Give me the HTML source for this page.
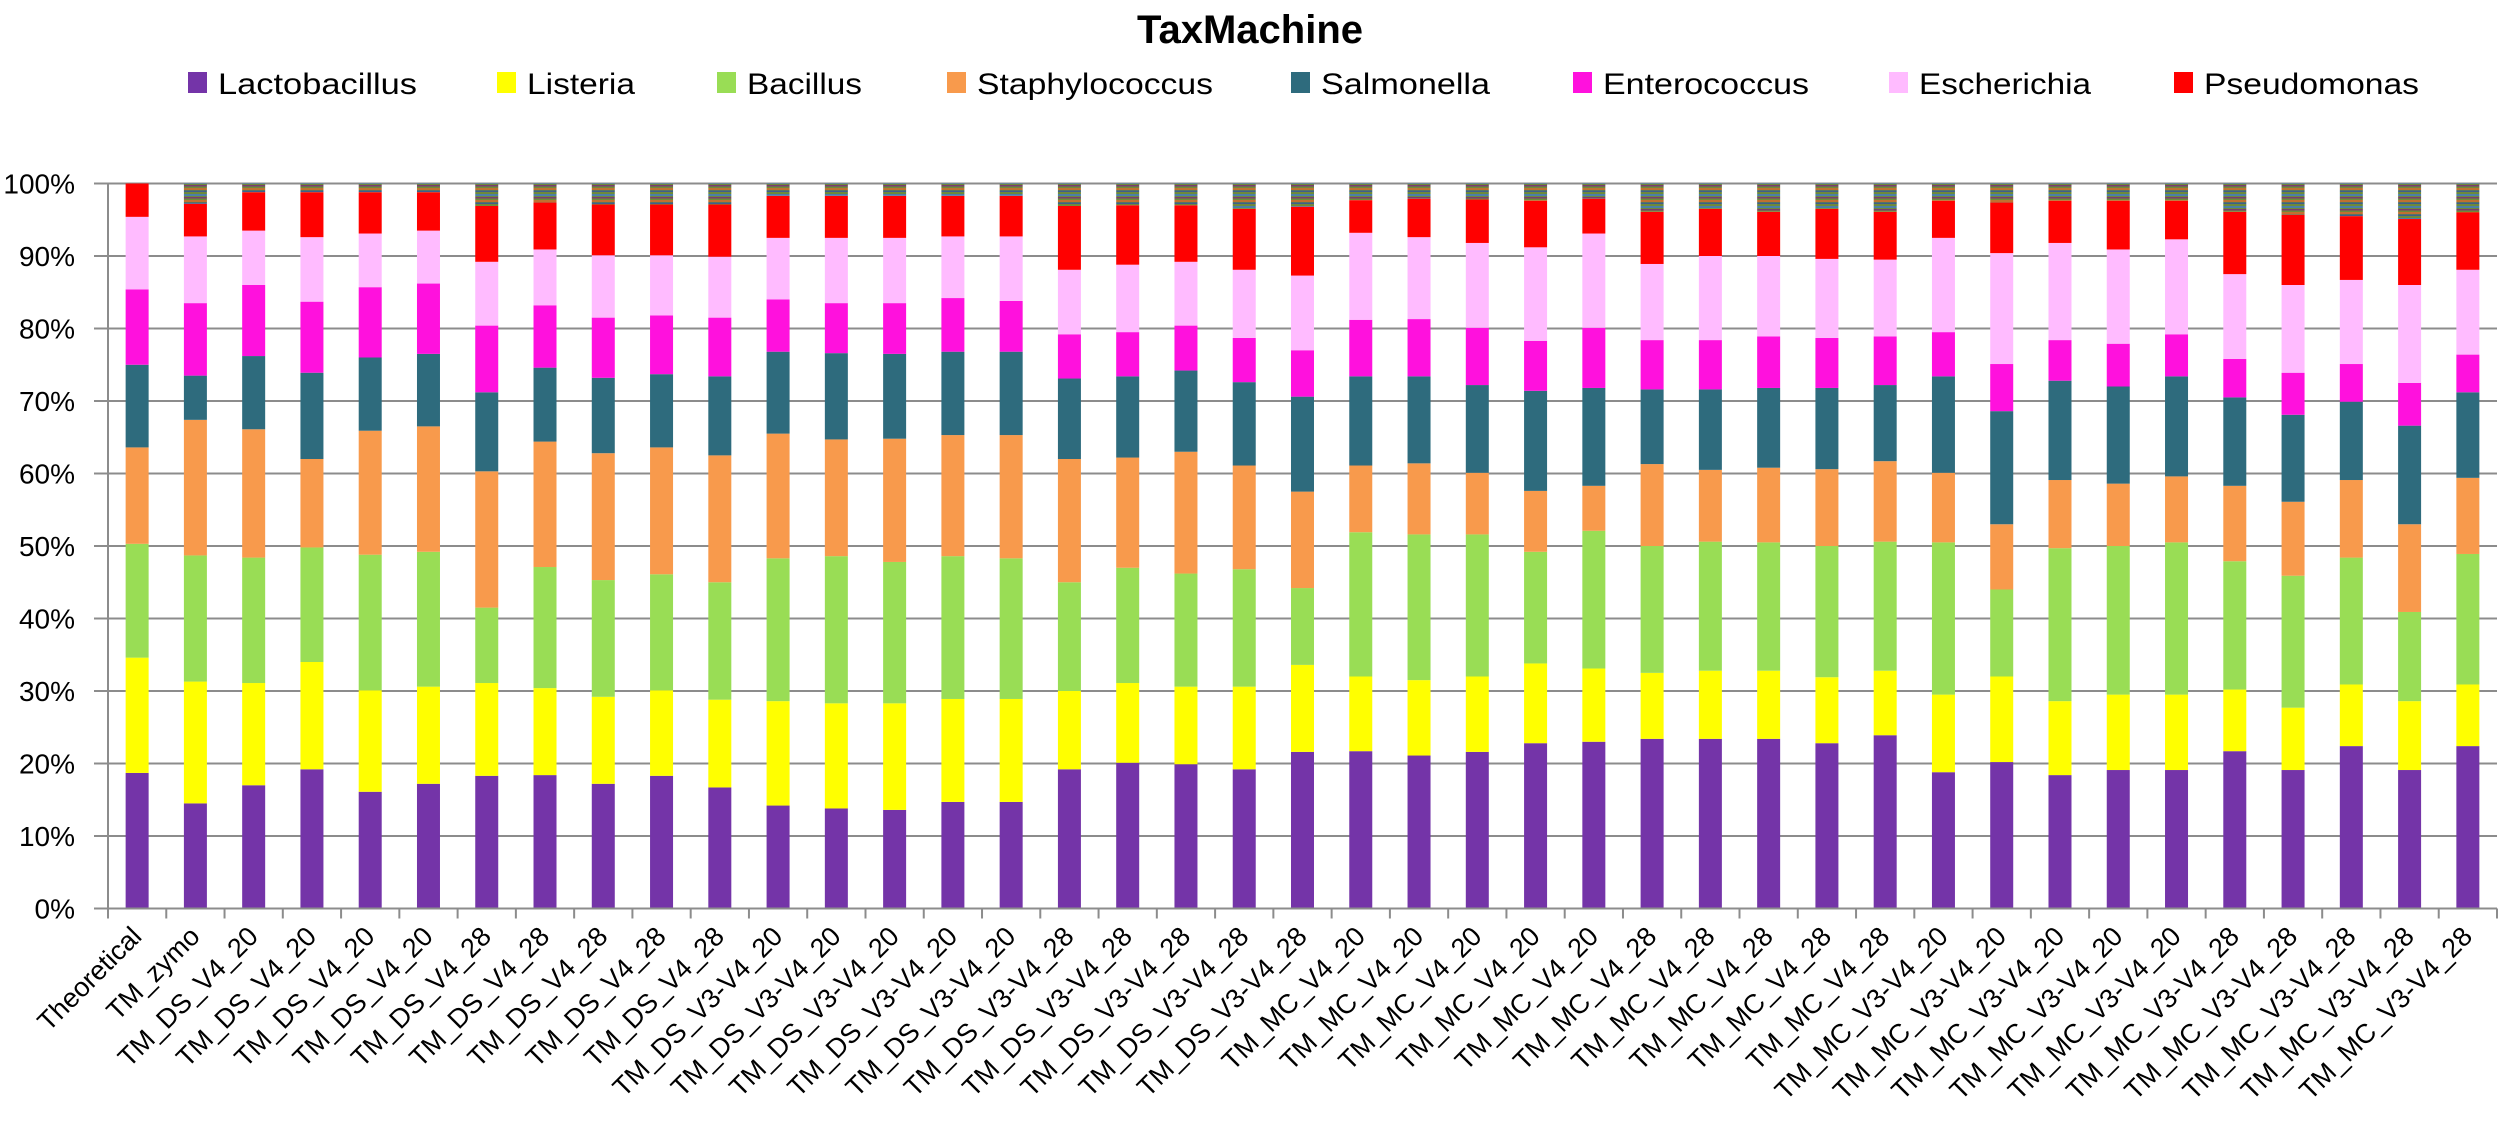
<!DOCTYPE html>
<html><head><meta charset="utf-8"><style>
html,body{margin:0;padding:0;background:#fff;}
svg{display:block;font-family:"Liberation Sans",sans-serif;}
</style></head><body>
<svg id="chart" width="2500" height="1123" xmlns="http://www.w3.org/2000/svg">
<defs>
<pattern id="otherPat" width="10" height="12" patternUnits="userSpaceOnUse">
<rect width="10" height="12" fill="#6e8a3a"/>
<rect y="2" width="10" height="2" fill="#4a7fa8"/>
<rect y="5" width="10" height="1.5" fill="#7a3d6e"/>
<rect y="8" width="10" height="2" fill="#c07030"/>
<rect y="10.5" width="10" height="1.5" fill="#3e5e8e"/>
</pattern>
</defs>
<text x="1250" y="43" text-anchor="middle" font-size="40" font-weight="bold" fill="#000">TaxMachine</text>
<g id="legend"></g>
<g id="grid"></g>
<g id="bars"></g>
<g id="axes"></g>
</svg>
<script>
const categories = ["Theoretical","TM_zymo","TM_DS_V4_20","TM_DS_V4_20","TM_DS_V4_20","TM_DS_V4_20","TM_DS_V4_28","TM_DS_V4_28","TM_DS_V4_28","TM_DS_V4_28","TM_DS_V4_28","TM_DS_V3-V4_20","TM_DS_V3-V4_20","TM_DS_V3-V4_20","TM_DS_V3-V4_20","TM_DS_V3-V4_20","TM_DS_V3-V4_28","TM_DS_V3-V4_28","TM_DS_V3-V4_28","TM_DS_V3-V4_28","TM_DS_V3-V4_28","TM_MC_V4_20","TM_MC_V4_20","TM_MC_V4_20","TM_MC_V4_20","TM_MC_V4_20","TM_MC_V4_28","TM_MC_V4_28","TM_MC_V4_28","TM_MC_V4_28","TM_MC_V4_28","TM_MC_V3-V4_20","TM_MC_V3-V4_20","TM_MC_V3-V4_20","TM_MC_V3-V4_20","TM_MC_V3-V4_20","TM_MC_V3-V4_28","TM_MC_V3-V4_28","TM_MC_V3-V4_28","TM_MC_V3-V4_28","TM_MC_V3-V4_28"];
const seriesNames = ["Lactobacillus","Listeria","Bacillus","Staphylococcus","Salmonella","Enterococcus","Escherichia","Pseudomonas"];
const lactobacillus = [18.7,14.5,17.0,19.2,16.1,17.2,18.3,18.4,17.2,18.3,16.7,14.2,13.8,13.6,14.7,14.7,19.2,20.1,19.9,19.2,21.6,21.7,21.1,21.6,22.8,23.0,23.4,23.4,23.4,22.8,23.9,18.8,20.2,18.4,19.1,19.1,21.7,19.1,22.4,19.1,22.4];
const listeria = [15.9,16.8,14.1,14.8,14.0,13.4,12.8,12.0,12.0,11.8,12.1,14.4,14.5,14.7,14.2,14.2,10.8,11.0,10.7,11.4,12.0,10.3,10.4,10.4,11.0,10.1,9.1,9.4,9.4,9.1,8.9,10.7,11.8,10.2,10.4,10.4,8.5,8.6,8.5,9.5,8.5];
const bacillus = [15.7,17.4,17.3,15.8,18.7,18.6,10.4,16.7,16.1,16.0,16.2,19.7,20.3,19.5,19.7,19.4,15.0,15.9,15.6,16.2,10.6,19.9,20.1,19.6,15.4,19.0,17.5,17.8,17.7,18.1,17.8,21.0,12.0,21.1,20.5,21.0,17.7,18.2,17.5,12.3,18.0];
const staphylococcus = [13.3,18.7,17.7,12.2,17.1,17.3,18.8,17.3,17.5,17.5,17.5,17.2,16.1,17.0,16.7,17.0,17.0,15.2,16.8,14.3,13.3,9.2,9.8,8.5,8.4,6.2,11.3,9.9,10.3,10.6,11.1,9.6,9.0,9.4,8.6,9.1,10.4,10.2,10.7,12.1,10.5];
const salmonella = [11.4,6.1,10.1,11.9,10.1,10.0,10.9,10.2,10.4,10.1,10.9,11.3,11.9,11.7,11.5,11.5,11.1,11.2,11.2,11.5,13.1,12.3,12.0,12.1,13.8,13.5,10.3,11.1,11.0,11.2,10.5,13.3,15.6,13.7,13.4,13.8,12.2,12.0,10.8,13.6,11.8];
const enterococcus = [10.4,10.0,9.8,9.8,9.7,9.7,9.2,8.6,8.3,8.1,8.1,7.2,6.9,7.0,7.4,7.0,6.1,6.1,6.2,6.1,6.4,7.8,7.9,7.9,6.9,8.3,6.8,6.8,7.1,6.9,6.7,6.1,6.5,5.6,5.9,5.8,5.3,5.8,5.2,5.9,5.2];
const escherichia = [10.0,9.2,7.5,8.9,7.4,7.3,8.8,7.7,8.6,8.3,8.4,8.5,9.0,9.0,8.5,8.9,8.9,9.3,8.8,9.4,10.3,12.0,11.3,11.7,12.9,13.0,10.5,11.6,11.1,10.9,10.6,13.0,15.3,13.4,13.0,13.1,11.7,12.1,11.6,13.5,11.7];
const pseudomonas = [4.6,4.5,5.3,6.2,5.7,5.3,7.7,6.5,7.0,7.0,7.2,5.8,5.8,5.8,5.6,5.6,8.8,8.2,7.8,8.4,9.5,4.5,5.3,6.0,6.4,4.8,7.2,6.5,6.1,6.9,6.6,5.1,7.0,5.8,6.7,5.3,8.6,9.7,8.8,9.1,7.9];
const yTicks = [0,10,20,30,40,50,60,70,80,90,100];

const NS = "http://www.w3.org/2000/svg";
const series = [lactobacillus,listeria,bacillus,staphylococcus,salmonella,enterococcus,escherichia,pseudomonas];
const colors = ["#7434a8","#ffff00","#99dd55","#f89a4c","#2e6b7d","#ff11dd","#ffbbff","#ff0000"];
const plotLeft = 108, plotRight = 2497, plotTop = 183.5, plotBottom = 908.5;
const band = (plotRight - plotLeft) / categories.length;
const barW = 23;
function yScale(v){ return plotBottom - (plotBottom - plotTop) * v / 100; }
function xCenter(i){ return plotLeft + band * (i + 0.5); }
function mk(tag, attrs, parent){ const e = document.createElementNS(NS, tag); for (const k in attrs) e.setAttribute(k, attrs[k]); parent.appendChild(e); return e; }

const gridG = document.getElementById("grid");
const axesG = document.getElementById("axes");
yTicks.forEach(t => {
  const l = mk("line", {x1: plotLeft - 14, x2: plotRight, y1: yScale(t), y2: yScale(t), stroke: "#8c8c8c", "stroke-width": 2}, gridG);
  
  
  const tx = mk("text", {x: 75, y: yScale(t) + 10, "text-anchor": "end", "font-size": 28, fill: "#000"}, axesG);
  tx.textContent = t + "%";
  
  
});
const ya = mk("line", {x1: plotLeft, x2: plotLeft, y1: plotTop, y2: plotBottom + 10, stroke: "#8c8c8c", "stroke-width": 2}, axesG);



const barsG = document.getElementById("bars");
categories.forEach((c, i) => {
  const g = mk("g", {}, barsG);
  
  
  let cum = 0;
  series.forEach((s, k) => {
    const v = s[i];
    const r = mk("rect", {x: xCenter(i) - barW/2, y: yScale(cum + v), width: barW, height: yScale(cum) - yScale(cum + v), fill: colors[k]}, g);
    
    
    cum += v;
  });
  if (cum < 100) {
    const r = mk("rect", {x: xCenter(i) - barW/2, y: yScale(100), width: barW, height: yScale(cum) - yScale(100), fill: "url(#otherPat)"}, g);
    
    
  }
  const tk = mk("line", {x1: plotLeft + band * (i + 1), x2: plotLeft + band * (i + 1), y1: plotBottom, y2: plotBottom + 10, stroke: "#8c8c8c", "stroke-width": 2}, axesG);
  
  
  const lx = xCenter(i) + 6, ly = 938;
  const t = mk("text", {x: lx, y: ly, "text-anchor": "end", "font-size": 27, fill: "#000", transform: "rotate(-45 " + lx + " " + ly + ")"}, axesG);
  t.textContent = c;
  
  
});
const xa = mk("line", {x1: plotLeft, x2: plotRight, y1: plotBottom, y2: plotBottom, stroke: "#8c8c8c", "stroke-width": 2}, axesG);



const legendG = document.getElementById("legend");
const legX = [198,507,727,957,1301,1583,1899,2184];
const legW = [199,108,115,236,169,206,172,215];
seriesNames.forEach((n, k) => {
  const g = mk("g", {}, legendG);
  
  
  mk("rect", {x: legX[k] - 10, y: 72, width: 19, height: 21, fill: colors[k]}, g);
  const t = mk("text", {x: legX[k] + 20, y: 94, "font-size": 30, fill: "#000", textLength: legW[k], lengthAdjust: "spacingAndGlyphs"}, g);
  t.textContent = n;
});
</script>
</body></html>
